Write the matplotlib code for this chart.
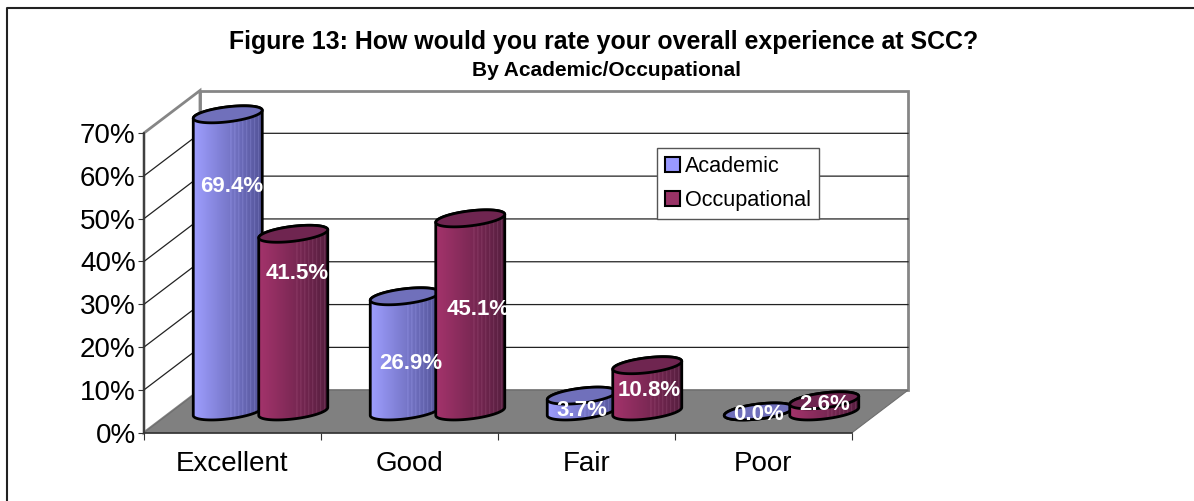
import numpy as np
import matplotlib
matplotlib.use("Agg")
import matplotlib.pyplot as plt
from matplotlib.lines import Line2D
from matplotlib.patches import Polygon, Rectangle

plt.rcParams["font.family"] = ["Liberation Sans", "DejaVu Sans"]

categories = ["Excellent", "Good", "Fair", "Poor"]
academic = [69.4, 26.9, 3.7, 0.0]
occupational = [41.5, 45.1, 10.8, 2.6]
y_ticks = [0, 10, 20, 30, 40, 50, 60, 70]

# label placement relative to the cylinder top, in pixels
academic_label_off = [(3.5, -72), (6, -67), (0, -15), (0, -3)]
occupational_label_off = [(4, -40), (8, -91), (1.5, -25), (0, -4)]

W, H = 1194, 501
fig = plt.figure(figsize=(W / 100, H / 100), dpi=100)
fig.patch.set_facecolor("white")
# outer frame only shows on the left and top
fig.add_artist(Line2D([7 / W, 7 / W, 1], [0, 1 - 7.5 / H, 1 - 7.5 / H], transform=fig.transFigure,
                      color="#222222", linewidth=1.5))

# front plane of the fake 3D box
left, right, y0, y70 = 144, 852, 432.7, 133
ax = fig.add_axes([left / W, 1 - y0 / H, (right - left) / W, (y0 - y70) / H])
ax.set_xlim(0, 4)
ax.set_ylim(0, 70)
ax.patch.set_alpha(0)

# pixel helpers, depth of the box is 56 px across, 42 px up
px_x = 4 / (right - left)
px_y = 70 / (y0 - y70)
dx = 56 * px_x
dy = 42.5 * px_y

ax.add_patch(Polygon([(dx, dy), (4 + dx, dy), (4 + dx, 70 + dy), (dx, 70 + dy)], facecolor="white",
                     edgecolor="#868686", linewidth=2, clip_on=False, zorder=1))
ax.add_patch(Polygon([(0, 0), (dx, dy), (dx, 70 + dy), (0, 70)], facecolor="white",
                     edgecolor="#868686", linewidth=2, clip_on=False, zorder=1))
for v in y_ticks[1:-1]:
    ax.plot([0, dx, 4 + dx], [v, v + dy, v + dy], color="#222222", linewidth=0.9, clip_on=False, zorder=2)
ax.add_patch(Polygon([(0, 0), (4, 0), (4 + dx, dy), (dx, dy)], facecolor="#808080",
                     edgecolor="#6e6e6e", linewidth=0.8, clip_on=False, zorder=3))


def gradient(c_left, c_right):
    ramp = np.linspace(0, 1, 70)[:, None]
    img = (1 - ramp) * np.array(c_left) + ramp * np.array(c_right)
    # faint vertical banding towards the dark side
    for i in range(38, 68, 4):
        img[i] = np.minimum(img[i] + 0.07, 1)
    return img[None, :, :]


def cylinder(center, value, c_left, c_right, cap, z):
    rx = 34.5 * px_x
    cx = center + dx / 2
    base = dy / 2
    t = np.linspace(0, 2 * np.pi, 90)
    ex = rx * np.cos(t)
    ey = (7.5 * np.sin(t) + 4 * np.cos(t)) * px_y
    # side outline: lower half of the base, then upper half at the top
    lower = np.linspace(np.pi, 2 * np.pi, 45)
    bx = cx + rx * np.cos(lower)
    by = base + (7.5 * np.sin(lower) + 4 * np.cos(lower)) * px_y
    upper = np.linspace(0, np.pi, 45)
    tx = cx + rx * np.cos(upper)
    ty = base + value + (7.5 * np.sin(upper) + 4 * np.cos(upper)) * px_y
    body = Polygon(np.r_[np.c_[bx, by], np.c_[tx, ty]], facecolor="none", edgecolor="black",
                   linewidth=2, clip_on=False, zorder=z + 0.2)
    ax.add_patch(body)
    im = ax.imshow(gradient(c_left, c_right), extent=(cx - rx, cx + rx, base - 10 * px_y, base + value + 10 * px_y),
                   aspect="auto", zorder=z, interpolation="bilinear")
    im.set_clip_box(fig.bbox)
    im.set_clip_path(body)
    ax.add_patch(Polygon(np.c_[cx + ex, base + value + ey], facecolor=cap, edgecolor="black",
                         linewidth=2, clip_on=False, zorder=z + 0.3))


blue = ((0.62, 0.62, 1.0), (0.33, 0.33, 0.60))
wine = ((0.64, 0.20, 0.42), (0.34, 0.12, 0.25))
for i in range(len(categories)):
    z = 4 + i * 2
    cylinder(i + 0.315, academic[i], blue[0], blue[1], "#7070BB", z)
    cylinder(i + 0.685, occupational[i], wine[0], wine[1], "#6F2550", z + 1)
ax.set_xlim(0, 4)
ax.set_ylim(0, 70)

for i in range(len(categories)):
    for pos, vals, offs in ((0.315, academic, academic_label_off), (0.685, occupational, occupational_label_off)):
        ax.annotate(f"{vals[i]:.1f}%", xy=(i + pos + dx / 2, dy / 2 + vals[i]), xytext=offs[i],
                    textcoords="offset pixels", color="white", fontweight="bold", fontsize=16,
                    ha="center", va="center", zorder=30, annotation_clip=False)

for s in ("top", "right"):
    ax.spines[s].set_visible(False)
for s in ("left", "bottom"):
    ax.spines[s].set_color("#333333")
    ax.spines[s].set_linewidth(1.2)
    ax.spines[s].set_zorder(3.5)
ax.set_yticks(y_ticks)
ax.set_yticklabels([f"{v}%" for v in y_ticks], fontsize=20)
ax.set_xticks(range(5))
ax.set_xticklabels([])
ax.set_xticks(np.arange(4) + 0.5, labels=categories, minor=True, fontsize=20)
ax.tick_params(axis="x", which="major", length=5, color="#333333")
ax.tick_params(axis="x", which="minor", length=0, pad=13.5)
ax.tick_params(axis="y", length=4, pad=2, color="#333333")

fig.text(603.5 / W, 1 - 42 / H, "Figure 13: How would you rate your overall experience at SCC?",
         ha="center", va="center", fontsize=17.9, fontweight="bold")
fig.text(606 / W, 1 - 71 / H, "By Academic/Occupational", ha="center", va="center",
         fontsize=15, fontweight="bold")

handles = [Rectangle((0, 0), 1, 1, facecolor="#9999FF", edgecolor="black", linewidth=1.5),
           Rectangle((0, 0), 1, 1, facecolor="#993366", edgecolor="black", linewidth=1.5)]
leg = fig.legend(handles, ["Academic", "Occupational"], loc="upper left",
                 bbox_to_anchor=(657 / W, 1 - 148 / H), fontsize=15.6, frameon=True, fancybox=False,
                 edgecolor="#555555", framealpha=1, handlelength=0.7, handleheight=0.7,
                 handletextpad=0.25, labelspacing=0.62, borderpad=0.36, borderaxespad=0)
leg.set_zorder(40)

fig.savefig("out.png", dpi=100)
